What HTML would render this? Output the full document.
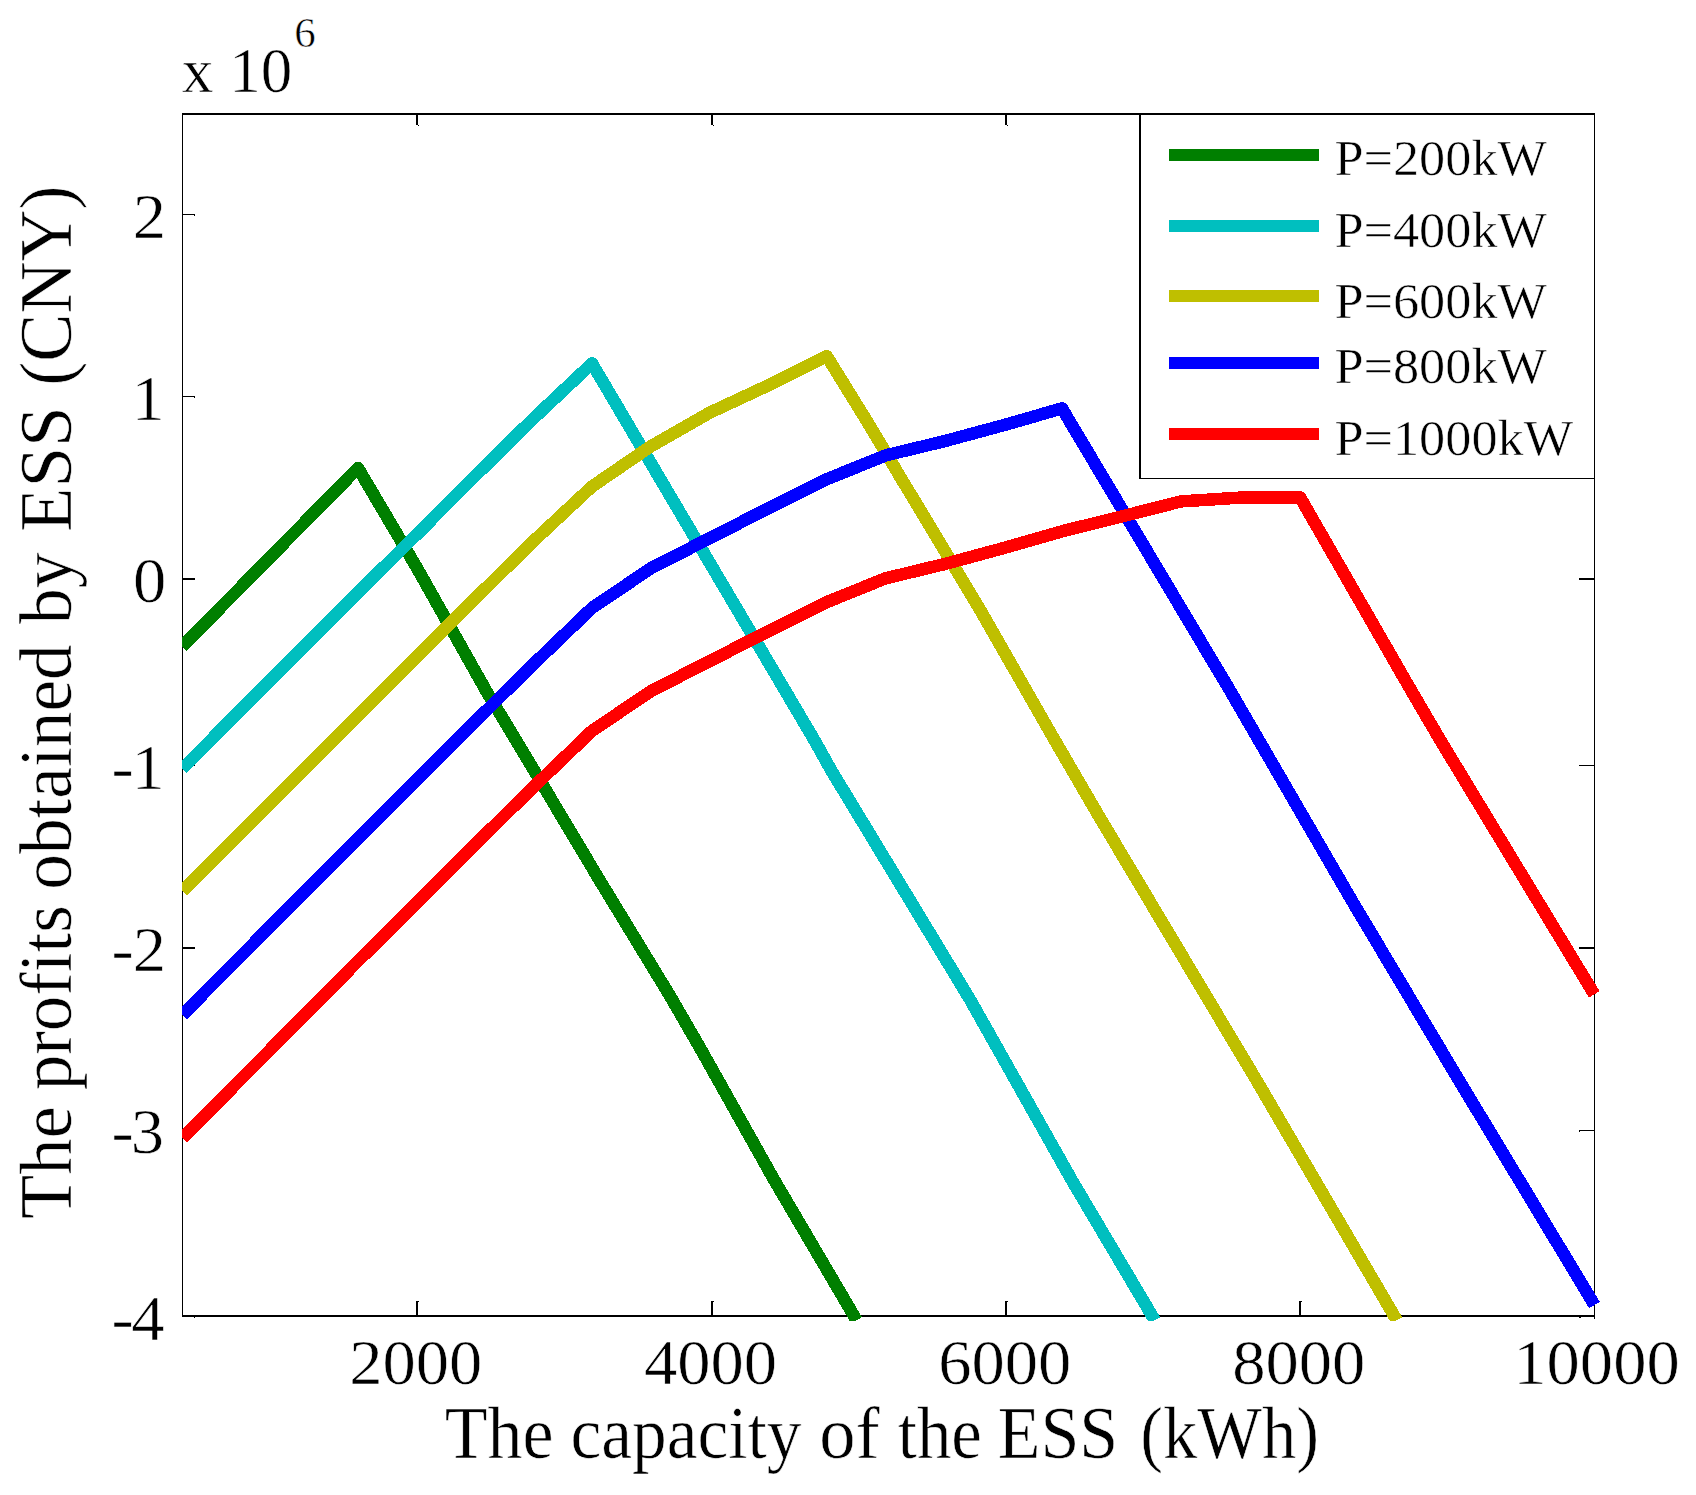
<!DOCTYPE html>
<html lang="en"><head><meta charset="utf-8">
<title>The profits obtained by ESS versus capacity</title>
<style>
html,body{margin:0;padding:0;background:#fff;}
body{width:1696px;height:1495px;overflow:hidden;}
svg{display:block;}
text{font-family:"Liberation Serif","Times New Roman",Times,serif;fill:#000;stroke:#fff;stroke-width:0.55px;font-variant-ligatures:none;font-feature-settings:"liga" 0,"clig" 0;}
</style></head><body>
<svg width="1696" height="1495" viewBox="0 0 1696 1495">
<rect x="0" y="0" width="1696" height="1495" fill="#ffffff"/>
<g fill="#000" shape-rendering="crispEdges">
<rect x="182" y="113" width="1413" height="2"/>
<rect x="182" y="1315" width="1413" height="2"/>
<rect x="182" y="113" width="1" height="1204"/>
<rect x="1594" y="113" width="1" height="1206"/>
<rect x="416" y="1301" width="2" height="14"/>
<rect x="418" y="1301" width="1" height="1"/>
<rect x="416" y="115" width="2" height="10"/>
<rect x="418" y="125" width="1" height="1"/>
<rect x="711" y="1301" width="2" height="14"/>
<rect x="713" y="1301" width="1" height="1"/>
<rect x="711" y="115" width="2" height="10"/>
<rect x="713" y="125" width="1" height="1"/>
<rect x="1005" y="1301" width="2" height="14"/>
<rect x="1007" y="1301" width="1" height="1"/>
<rect x="1005" y="115" width="2" height="10"/>
<rect x="1007" y="125" width="1" height="1"/>
<rect x="1299" y="1301" width="2" height="14"/>
<rect x="1301" y="1301" width="1" height="1"/>
<rect x="1299" y="115" width="2" height="10"/>
<rect x="1301" y="125" width="1" height="1"/>
<rect x="183" y="214" width="12" height="1"/>
<rect x="1579" y="214" width="15" height="1"/>
<rect x="194" y="215" width="1" height="1"/>
<rect x="1579" y="215" width="1" height="1"/>
<rect x="183" y="396" width="12" height="1"/>
<rect x="1579" y="396" width="15" height="1"/>
<rect x="194" y="397" width="1" height="1"/>
<rect x="1579" y="397" width="1" height="1"/>
<rect x="183" y="578" width="12" height="2"/>
<rect x="1579" y="578" width="15" height="2"/>
<rect x="183" y="765" width="12" height="1"/>
<rect x="1579" y="765" width="15" height="1"/>
<rect x="183" y="947" width="12" height="2"/>
<rect x="1579" y="947" width="15" height="2"/>
<rect x="183" y="1130" width="12" height="1"/>
<rect x="1579" y="1130" width="15" height="1"/>
<rect x="194" y="1131" width="1" height="1"/>
<rect x="1579" y="1131" width="1" height="1"/>
<rect x="194" y="1317" width="1" height="1"/>
<rect x="1579" y="1317" width="2" height="1"/>
</g>
<clipPath id="axclip"><rect x="182" y="100" width="1420" height="1221"/></clipPath>
<g fill="none" stroke-width="12.5" stroke-linejoin="round" stroke-linecap="butt" shape-rendering="crispEdges" clip-path="url(#axclip)">
<polyline stroke="#007f00" points="182.3,646.5 358.0,468.0 416.6,567.3 487.1,692.5 515.9,740.0 600.0,880.9 670.0,995.9 700.0,1047.8 774.2,1180.0 856.6,1320.3"/>
<polyline stroke="#00bfbf" points="182.3,768.6 358.0,592.6 416.6,534.6 475.2,475.9 533.9,418.1 592.0,363.4 814.3,740.0 831.0,770.0 970.3,1000.0 1071.7,1180.0 1154.8,1320.3"/>
<polyline stroke="#bfbf00" points="182.3,891.2 358.0,715.2 416.6,657.2 475.2,598.5 533.9,540.7 592.0,486.5 650.8,446.3 709.7,412.7 768.2,385.4 826.8,356.2 866.2,420.0 900.0,476.5 980.0,609.6 1054.6,740.0 1100.0,818.0 1256.3,1080.0 1396.8,1320.3"/>
<polyline stroke="#0000ff" points="182.3,1015.0 358.0,838.2 416.6,780.2 475.2,721.5 533.9,663.7 592.0,608.0 650.8,568.3 709.7,538.2 768.2,508.4 826.8,479.2 885.6,455.4 944.4,441.2 1003.2,425.3 1062.0,408.4 1229.7,690.0 1352.1,901.0 1458.8,1080.0 1594.5,1305.0"/>
<polyline stroke="#ff0000" points="182.3,1138.3 358.0,961.1 416.6,903.1 475.2,844.4 533.9,786.6 592.0,730.9 650.8,691.2 709.7,661.1 768.2,631.3 826.8,602.1 885.6,578.3 944.4,564.1 1003.2,548.2 1062.0,531.3 1121.5,516.5 1181.0,501.4 1240.5,497.6 1300.2,497.5 1410.9,690.0 1440.0,739.7 1476.0,799.2 1594.3,994.4"/>
</g>
<text transform="translate(415.80,1383.50) scale(1.0660,1)" font-size="62.50" text-anchor="middle">2000</text>
<text transform="translate(710.50,1383.50) scale(1.0660,1)" font-size="62.50" text-anchor="middle">4000</text>
<text transform="translate(1004.80,1383.50) scale(1.0660,1)" font-size="62.50" text-anchor="middle">6000</text>
<text transform="translate(1298.80,1383.50) scale(1.0660,1)" font-size="62.50" text-anchor="middle">8000</text>
<text transform="translate(1596.50,1383.50) scale(1.0660,1)" font-size="62.50" text-anchor="middle">10000</text>
<text transform="translate(0,237.80) scale(1.0660,1)" font-size="62.50"><tspan x="124.47">2</tspan></text>
<text transform="translate(0,420.00) scale(1.0660,1)" font-size="62.50"><tspan x="123.32">1</tspan></text>
<text transform="translate(0,601.60) scale(1.0660,1)" font-size="62.50"><tspan x="124.67">0</tspan></text>
<text transform="translate(0,789.00) scale(1.0660,1)" font-size="62.50"><tspan x="104.60">-</tspan><tspan x="123.32">1</tspan></text>
<text transform="translate(0,970.90) scale(1.0660,1)" font-size="62.50"><tspan x="104.60">-</tspan><tspan x="124.47">2</tspan></text>
<text transform="translate(0,1153.30) scale(1.0660,1)" font-size="62.50"><tspan x="104.60">-</tspan><tspan x="122.59">3</tspan></text>
<text transform="translate(0,1340.00) scale(1.0660,1)" font-size="62.50"><tspan x="104.60">-</tspan><tspan x="123.04">4</tspan></text>
<text transform="translate(181.80,91.90) scale(1.0100,1)" font-size="62.50" text-anchor="start">x 10</text>
<text x="294.20" y="46.60" font-size="43.00" text-anchor="start">6</text>
<text transform="translate(0,1458.00) scale(1,1.035)" font-size="70.83"><tspan x="444.67" textLength="108.78" lengthAdjust="spacingAndGlyphs">The</tspan> <tspan x="570.41" textLength="231.08" lengthAdjust="spacingAndGlyphs">capacity</tspan> <tspan x="819.28" textLength="60.43" lengthAdjust="spacingAndGlyphs">of</tspan> <tspan x="897.77" textLength="84.19" lengthAdjust="spacingAndGlyphs">the</tspan> <tspan x="997.73" textLength="120.54" lengthAdjust="spacingAndGlyphs">ESS</tspan> <tspan x="1140.20" textLength="178.81" lengthAdjust="spacingAndGlyphs">(kWh)</tspan></text>
<text transform="translate(71.2,0) rotate(-90) scale(1,1.035)" font-size="70.83"><tspan x="-1219.08" textLength="112.81" lengthAdjust="spacingAndGlyphs">The</tspan> <tspan x="-1090.35" textLength="185.24" lengthAdjust="spacingAndGlyphs">profits</tspan> <tspan x="-889.77" textLength="245.48" lengthAdjust="spacingAndGlyphs">obtained</tspan> <tspan x="-623.90" textLength="71.43" lengthAdjust="spacingAndGlyphs">by</tspan> <tspan x="-531.96" textLength="125.49" lengthAdjust="spacingAndGlyphs">ESS</tspan> <tspan x="-385.76" textLength="200.34" lengthAdjust="spacingAndGlyphs">(CNY)</tspan></text>
<g shape-rendering="crispEdges">
<rect x="1140" y="115" width="454" height="364" fill="#fff"/>
<rect x="1139" y="113" width="456" height="2" fill="#000"/>
<rect x="1139" y="478" width="456" height="1" fill="#000"/>
<rect x="1139" y="113" width="2" height="366" fill="#000"/>
<rect x="1594" y="113" width="1" height="366" fill="#000"/>
<rect x="1169" y="149" width="150" height="12" fill="#007f00"/>
<rect x="1169" y="220" width="150" height="12" fill="#00bfbf"/>
<rect x="1169" y="290" width="150" height="12" fill="#bfbf00"/>
<rect x="1169" y="357" width="150" height="12" fill="#0000ff"/>
<rect x="1169" y="428" width="150" height="12" fill="#ff0000"/>
</g>
<text transform="translate(1334.40,175.00) scale(1.0460,1)" font-size="50.00" text-anchor="start">P=200kW</text>
<text transform="translate(1334.40,246.60) scale(1.0460,1)" font-size="50.00" text-anchor="start">P=400kW</text>
<text transform="translate(1334.40,317.50) scale(1.0460,1)" font-size="50.00" text-anchor="start">P=600kW</text>
<text transform="translate(1334.40,383.40) scale(1.0460,1)" font-size="50.00" text-anchor="start">P=800kW</text>
<text transform="translate(1334.40,454.70) scale(1.0460,1)" font-size="50.00" text-anchor="start">P=1000kW</text>
</svg>
</body></html>
